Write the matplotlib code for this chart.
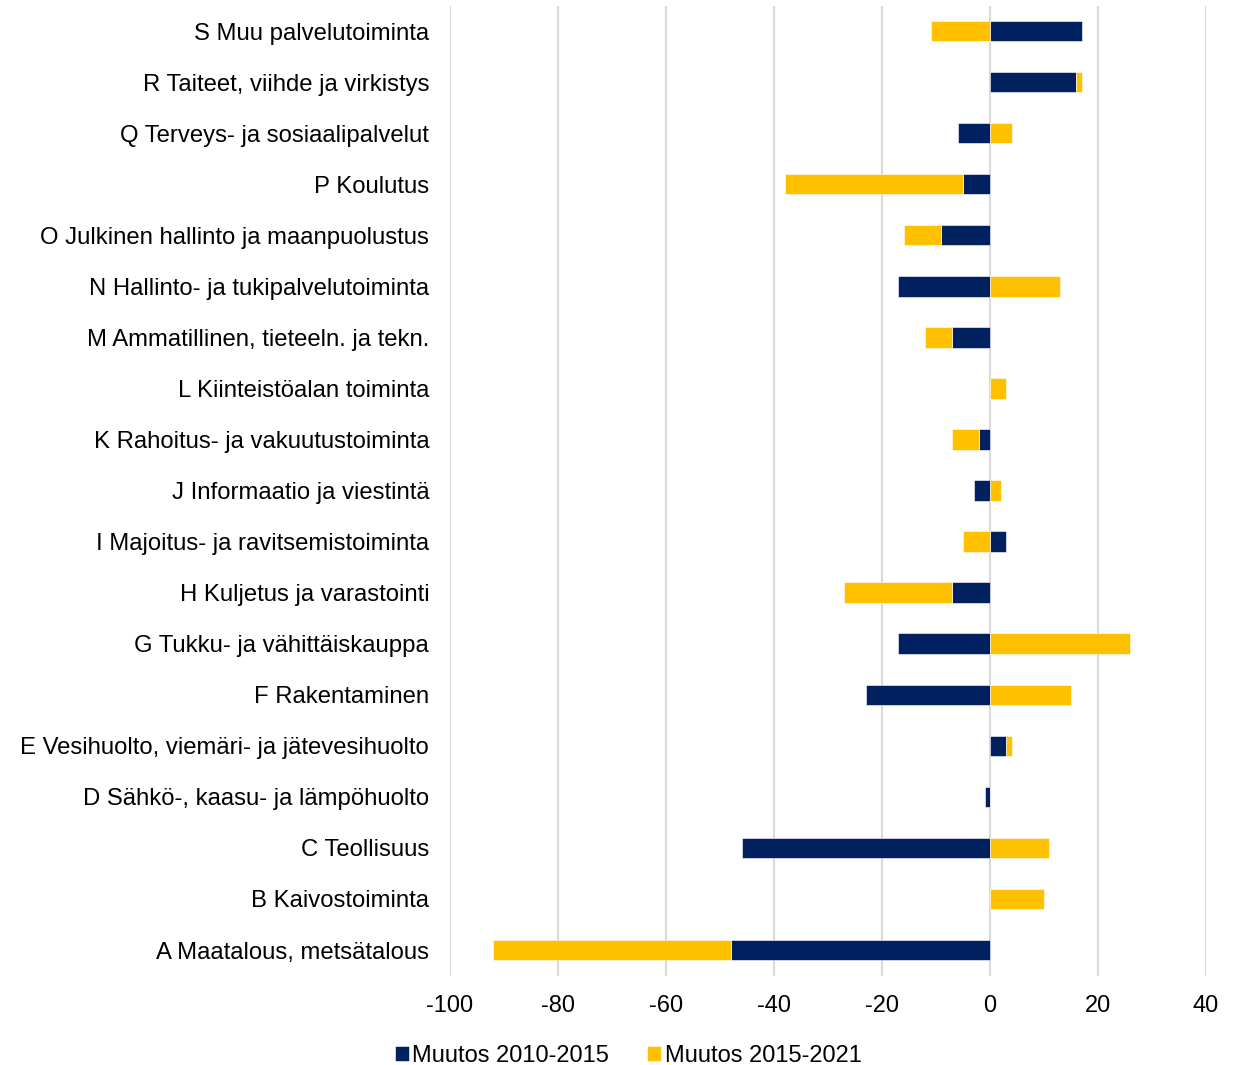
import numpy as np
import matplotlib.pyplot as plt

categories = [
    "A Maatalous, metsätalous",
    "B Kaivostoiminta",
    "C Teollisuus",
    "D Sähkö-, kaasu- ja lämpöhuolto",
    "E Vesihuolto, viemäri- ja jätevesihuolto",
    "F Rakentaminen",
    "G Tukku- ja vähittäiskauppa",
    "H Kuljetus ja varastointi",
    "I Majoitus- ja ravitsemistoiminta",
    "J Informaatio ja viestintä",
    "K Rahoitus- ja vakuutustoiminta",
    "L Kiinteistöalan toiminta",
    "M Ammatillinen, tieteeln. ja tekn.",
    "N Hallinto- ja tukipalvelutoiminta",
    "O Julkinen hallinto ja maanpuolustus",
    "P Koulutus",
    "Q Terveys- ja sosiaalipalvelut",
    "R Taiteet, viihde ja virkistys",
    "S Muu palvelutoiminta",
]
muutos_2010_2015 = [-48, 0, -46, -1, 3, -23, -17, -7, 3, -3, -2, 0, -7, -17, -9, -5, -6, 16, 17]
muutos_2015_2021 = [-44, 10, 11, 0, 1, 15, 26, -20, -5, 2, -5, 3, -5, 13, -7, -33, 4, 1, -11]
xticks = [-100, -80, -60, -40, -20, 0, 20, 40]

navy = "#002060"
yellow = "#FFC000"

a = np.array(muutos_2010_2015, dtype=float)
b = np.array(muutos_2015_2021, dtype=float)
# Excel-style stacking: negatives stack to the left, positives to the right
left_b = np.where(np.sign(a) == np.sign(b), a, 0)

fig = plt.figure(figsize=(12.34, 10.65), dpi=100)
ax = fig.add_axes([0.3647, 0.084, 0.6126, 0.9108])
plt.rcParams['font.family'] = ['Liberation Sans', 'DejaVu Sans']

y = np.arange(len(categories))
ax.barh(y, a, height=0.4, color=navy, edgecolor="white", linewidth=0.4,
        label="Muutos 2010-2015", zorder=3)
ax.barh(y, b, left=left_b, height=0.4, color=yellow, edgecolor="white", linewidth=0.4,
        label="Muutos 2015-2021", zorder=3)

ax.set_xlim(-100, 40)
ax.set_ylim(-0.5, len(categories) - 0.5)
ax.set_xticks(xticks)
ax.set_xticklabels([str(t) for t in xticks], fontsize=17, family=['Liberation Sans'])
ax.set_yticks(y)
ax.set_yticklabels(categories, fontsize=17.2, family=['Liberation Sans'])
ax.tick_params(axis="both", length=0, colors="#000000")
ax.tick_params(axis="x", pad=14)
ax.tick_params(axis="y", pad=15)
ax.grid(axis="x", color="#d9d9d9", linewidth=1.5, zorder=0)
ax.set_axisbelow(True)
for s in ax.spines.values():
    s.set_visible(False)

fig.legend(loc="lower center", bbox_to_anchor=(0.509, -0.022), ncol=2, frameon=False,
           handlelength=0.6, handleheight=0.6, handletextpad=0.15, columnspacing=1.6,
           prop={'family': 'Liberation Sans', 'size': 17})

fig.savefig("out.png", dpi=100)
